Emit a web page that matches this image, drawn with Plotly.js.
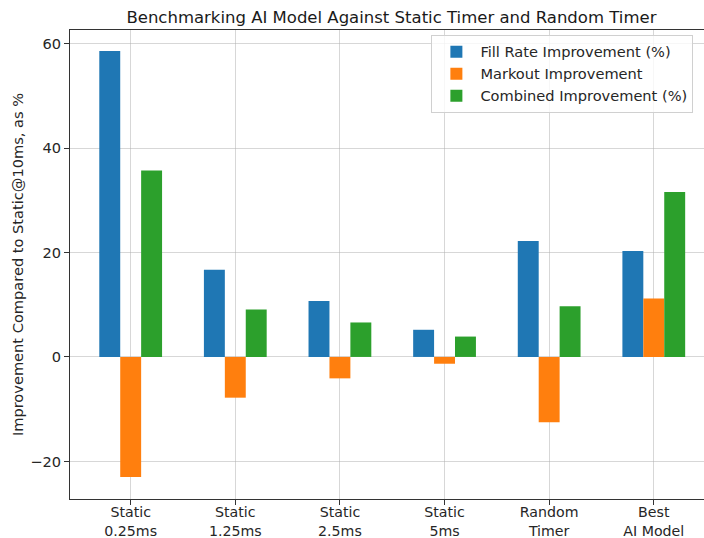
<!DOCTYPE html>
<html>
<head>
<meta charset="utf-8">
<script src="https://cdn.plot.ly/plotly-3.0.1.min.js"></script>
<style>html,body{margin:0;padding:0;background:#fff;}#chart{width:704px;height:538px;}</style>
</head>
<body>
<div id="chart"></div>
<script>
const categories = ["Static<br>0.25ms", "Static<br>1.25ms", "Static<br>2.5ms", "Static<br>5ms", "Random<br>Timer", "Best<br>AI Model"];
const fillRate = [58.6, 16.7, 10.7, 5.2, 22.2, 20.3];
const markout = [-23.0, -7.8, -4.1, -1.3, -12.5, 11.2];
const combined = [35.7, 9.1, 6.6, 3.9, 9.7, 31.6];
const seriesNames = ["Fill Rate Improvement (%)", "Markout Improvement", "Combined Improvement (%)"];
const seriesColors = ["#1f77b4", "#ff7f0e", "#2ca02c"];
const yTicks = [-20, 0, 20, 40, 60];
const yTickText = ["\u221220", "0", "20", "40", "60"];

const font = "DejaVu Sans, Arial, sans-serif";
const series = [fillRate, markout, combined];
const traces = series.map((vals, i) => ({
  type: "bar",
  x: categories,
  y: vals,
  name: seriesNames[i],
  marker: {color: seriesColors[i], line: {width: 0}},
  hoverinfo: "skip"
}));

const layout = {
  width: 704, height: 538,
  margin: {l: 70.4, r: 0, t: 30, b: 39},
  paper_bgcolor: "#fff", plot_bgcolor: "#fff",
  font: {family: font, size: 14.6, color: "#262626"},
  title: {text: "Benchmarking AI Model Against Static Timer and Random Timer",
          x: 0.556, xref: "container", xanchor: "center",
          y: 1 - 17/538, yref: "container", yanchor: "middle",
          font: {family: font, size: 16.5, color: "#1a1a1a"}},
  barmode: "group", bargap: 0.4, bargroupgap: 0,
  xaxis: {type: "category", range: [-0.58, 5.48], showgrid: true,
          gridcolor: "rgba(176,176,176,0.5)", gridwidth: 1,
          showline: true, linecolor: "#333", linewidth: 1, mirror: true,
          ticks: "outside", ticklen: 5, tickcolor: "#333", ticklabelstandoff: -5,
          automargin: false,
          layer: "above traces", tickfont: {family: font, size: 14.2, color: "#262626"}},
  yaxis: {range: [-27.2, 62.6], tickvals: yTicks, ticktext: yTickText,
          showgrid: true, gridcolor: "rgba(176,176,176,0.5)", gridwidth: 1,
          zeroline: false, showline: true, linecolor: "#333", linewidth: 1, mirror: false,
          ticks: "outside", ticklen: 5, tickcolor: "#333", layer: "above traces",
          automargin: true,
          tickfont: {family: font, size: 14.6, color: "#262626"},
          title: {text: "Improvement Compared to Static@10ms, as %", standoff: 3,
                  font: {family: font, size: 14.6, color: "#262626"}}},
  legend: {x: 0.570, y: 0.99, xanchor: "left", yanchor: "top",
           bgcolor: "rgba(255,255,255,0.8)", bordercolor: "#d0d0d0", borderwidth: 1,
           font: {family: font, size: 14.6, color: "#262626"},
           tracegroupgap: 0, itemwidth: 38}
};

Plotly.newPlot("chart", traces, layout, {displayModeBar: false, staticPlot: true});
</script>
</body>
</html>
